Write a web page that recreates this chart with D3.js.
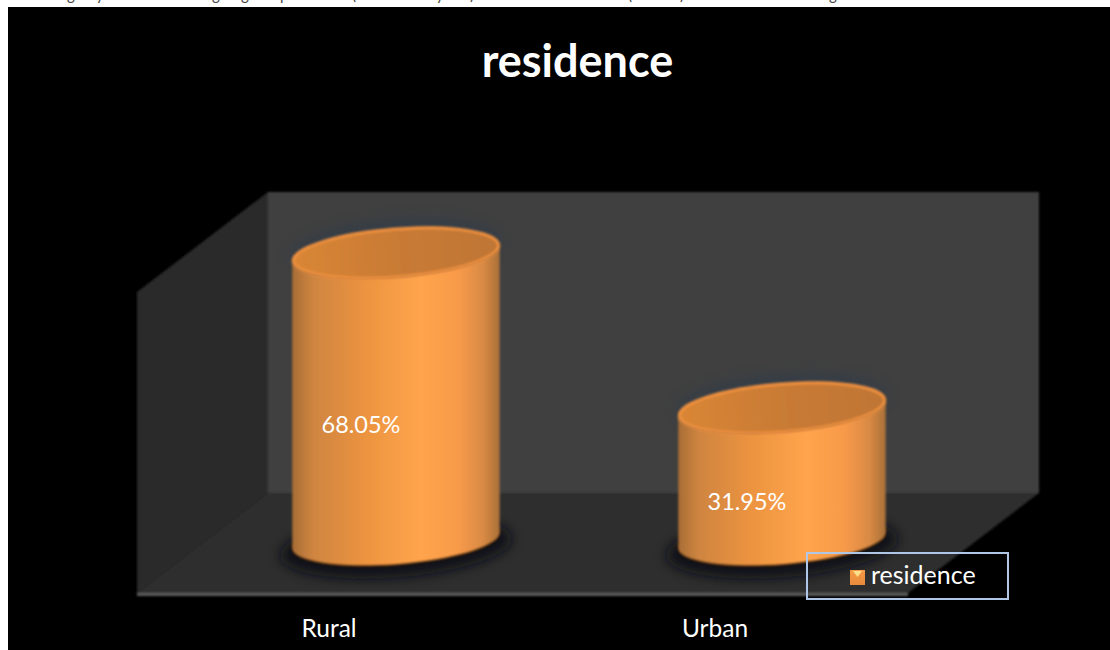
<!DOCTYPE html>
<html>
<head>
<meta charset="utf-8">
<style>
html,body{margin:0;padding:0;background:#fff;overflow:hidden}
svg{display:block}
text{font-family:Lato,"Open Sans",sans-serif;fill:#fff}
</style>
<script src="https://cdn.jsdelivr.net/npm/d3@7/dist/d3.min.js"></script>
</head>
<body>
<svg id="chart" width="1110" height="650"></svg>
<script>
// Share of respondents by place of residence
const categories = ["Rural", "Urban"];
const shares = [68.05, 31.95];
const shareLabels = ["68.05%", "31.95%"];
const seriesName = "residence";
const chartTitle = "residence";

const svg = d3.select("#chart");
const defs = svg.append("defs");

function linear(id, stops, x2, y2) {
  const g = defs.append("linearGradient").attr("id", id)
    .attr("x1", 0).attr("y1", 0).attr("x2", x2).attr("y2", y2);
  stops.forEach(([o, c]) => g.append("stop").attr("offset", o).attr("stop-color", c));
}
linear("cylBody", [[0, "#a86e36"], [0.1, "#cf8540"], [0.35, "#ec9340"], [0.62, "#ffa54d"], [0.8, "#f89a4a"], [0.92, "#d98a44"], [1, "#a97038"]], 1, 0);
linear("cylTop", [[0, "#d98636"], [0.5, "#c97b35"], [1, "#bf7635"]], 1, 0);
linear("swatch", [[0, "#f59a45"], [1, "#e88a3c"]], 0, 1);
defs.append("filter").attr("id", "soft").attr("x", "-30%").attr("y", "-30%").attr("width", "160%").attr("height", "160%")
  .append("feGaussianBlur").attr("stdDeviation", 6);
defs.append("filter").attr("id", "edge").attr("x", "-5%").attr("y", "-5%").attr("width", "110%").attr("height", "110%")
  .append("feGaussianBlur").attr("stdDeviation", 0.8);

// Black chart area below the page's running text
svg.append("rect").attr("x", 8).attr("y", 7).attr("width", 1102).attr("height", 643).attr("fill", "#000");

// Descenders of the text line cut off by the top edge
const clippedGlyphs = ["g", "y", "g", "g", "p", "(", "y", ")", "(", ")", "g"];
const clippedX = d3.scaleOrdinal().domain(d3.range(clippedGlyphs.length))
  .range([67, 96, 212, 241, 280, 352, 436, 470, 628, 680, 829]);
svg.append("g").selectAll("text").data(clippedGlyphs).join("text")
  .attr("x", (d, i) => clippedX(i)).attr("y", 0).attr("font-size", 15)
  .style("fill", "#444").text(d => d);

// Box geometry of the 3-D plot area
const front = {x0: 137, x1: 908, y: 593};
const depth = {dx: 131, dy: -100};
const wallTop = 192;

const line = d3.line();
const box = svg.append("g").attr("filter", "url(#edge)");
box.append("path").attr("fill", "#2a2a2a")
  .attr("d", line([[front.x0, wallTop + 100], [front.x0 + depth.dx, wallTop], [front.x0 + depth.dx, front.y + depth.dy], [front.x0, front.y]]) + "Z");
box.append("path").attr("fill", "#414141")
  .attr("d", line([[front.x0 + depth.dx, wallTop], [front.x1 + depth.dx, wallTop], [front.x1 + depth.dx, front.y + depth.dy], [front.x0 + depth.dx, front.y + depth.dy]]) + "Z");
box.append("path").attr("fill", "#2f2f2f")
  .attr("d", line([[front.x0, front.y], [front.x0 + depth.dx, front.y + depth.dy], [front.x1 + depth.dx, front.y + depth.dy], [front.x1, front.y]]) + "Z");
box.append("rect").attr("x", front.x0).attr("y", front.y).attr("width", front.x1 - front.x0).attr("height", 3).attr("fill", "#5c5c5c");

// Scales: categories along the front edge, value up from the floor
const x = d3.scaleBand().domain(categories).range([front.x0, front.x0 + 772]);
const y = d3.scaleLinear().domain([0, 100]).range([545, 116]);
const baseY = 540;          // where the cylinder centres meet the floor
const cylOffset = 66;       // cylinders stand mid-way back on the floor
const rx = 104, ry = 24, tilt = -4.5;
const rad = tilt * Math.PI / 180;
const px = rx * Math.cos(rad), py = rx * Math.sin(rad);

const cyl = svg.append("g").selectAll("g").data(categories).join("g");
const cx = d => x(d) + x.bandwidth() / 2 + cylOffset;
const valueOf = d => shares[categories.indexOf(d)];

// Halo behind and shadow under each cylinder
cyl.append("ellipse").attr("cx", d => cx(d)).attr("cy", baseY + 7).attr("rx", rx + 12).attr("ry", ry + 6)
  .attr("transform", d => `rotate(${tilt} ${cx(d)} ${baseY + 7})`)
  .attr("fill", "#0b1016").attr("opacity", 0.9).attr("filter", "url(#soft)");
cyl.append("ellipse").attr("cx", d => cx(d)).attr("cy", d => y(valueOf(d)) - 5).attr("rx", rx + 2).attr("ry", ry + 5)
  .attr("transform", d => `rotate(${tilt} ${cx(d)} ${y(valueOf(d))})`)
  .attr("fill", "#2a3a4e").attr("opacity", 0.5).attr("filter", "url(#soft)");

// Dark lip along the foot of the cylinder
cyl.append("path").attr("fill", "#4a2a10").attr("filter", "url(#edge)")
  .attr("d", d => {
    const c = cx(d);
    return `M${c - px},${baseY - py} A${rx},${ry} ${tilt} 0 0 ${c + px},${baseY + py} L${c + px},${baseY + py - 6} L${c - px},${baseY - py - 6} Z`;
  })
  .attr("transform", "translate(0,1.5)");

// Cylinder side wall closed by the tilted lower ellipse
cyl.append("path").attr("fill", "url(#cylBody)").attr("filter", "url(#edge)")
  .attr("d", d => {
    const c = cx(d), t = y(valueOf(d));
    return `M${c - px},${t - py} L${c - px},${baseY - py} A${rx},${ry} ${tilt} 0 0 ${c + px},${baseY + py} L${c + px},${t + py} A${rx},${ry} ${tilt} 0 1 ${c - px},${t - py} Z`;
  });

// Top cap with a brighter rim
cyl.append("ellipse").attr("cx", d => cx(d)).attr("cy", d => y(valueOf(d))).attr("rx", rx - 1).attr("ry", ry)
  .attr("transform", d => `rotate(${tilt} ${cx(d)} ${y(valueOf(d))})`)
  .attr("fill", "url(#cylTop)").attr("stroke", "#f0913f").attr("stroke-width", 3).attr("filter", "url(#edge)");

// Value labels
cyl.append("text").attr("x", d => x(d) + x.bandwidth() / 2 + 31)
  .attr("y", d => (y(valueOf(d)) + baseY) / 2 + 36)
  .attr("text-anchor", "middle").attr("font-size", 23.5)
  .text((d, i) => shareLabels[i]);

// Category axis below the front edge
const axis = d3.axisBottom(x).tickSize(0).tickPadding(27);
const axisG = svg.append("g").attr("transform", `translate(-1,${front.y})`).call(axis);
axisG.select(".domain").remove();
axisG.selectAll("text").attr("font-size", 24.5).attr("font-family", "Lato").attr("dy", "0.71em").style("fill", "#fff");

// Chart title
svg.append("text").attr("x", 577.5).attr("y", 77).attr("text-anchor", "middle")
  .attr("font-size", 45).attr("font-weight", 700).text(chartTitle);

// Legend frame sits over the chart without a fill of its own
const legend = svg.append("g");
legend.append("rect").attr("x", 807).attr("y", 553).attr("width", 201).attr("height", 46)
  .attr("fill", "none").attr("stroke", "#b0c6e6").attr("stroke-width", 2);
legend.append("rect").attr("x", 850).attr("y", 570).attr("width", 15).attr("height", 15).attr("fill", "url(#swatch)");
legend.append("path").attr("fill", "#ffe08a").attr("d", line([[853, 571], [862, 571], [857.5, 577]]) + "Z");
legend.append("text").attr("x", 871).attr("y", 584).attr("font-size", 25).text(seriesName);
</script>
</body>
</html>
